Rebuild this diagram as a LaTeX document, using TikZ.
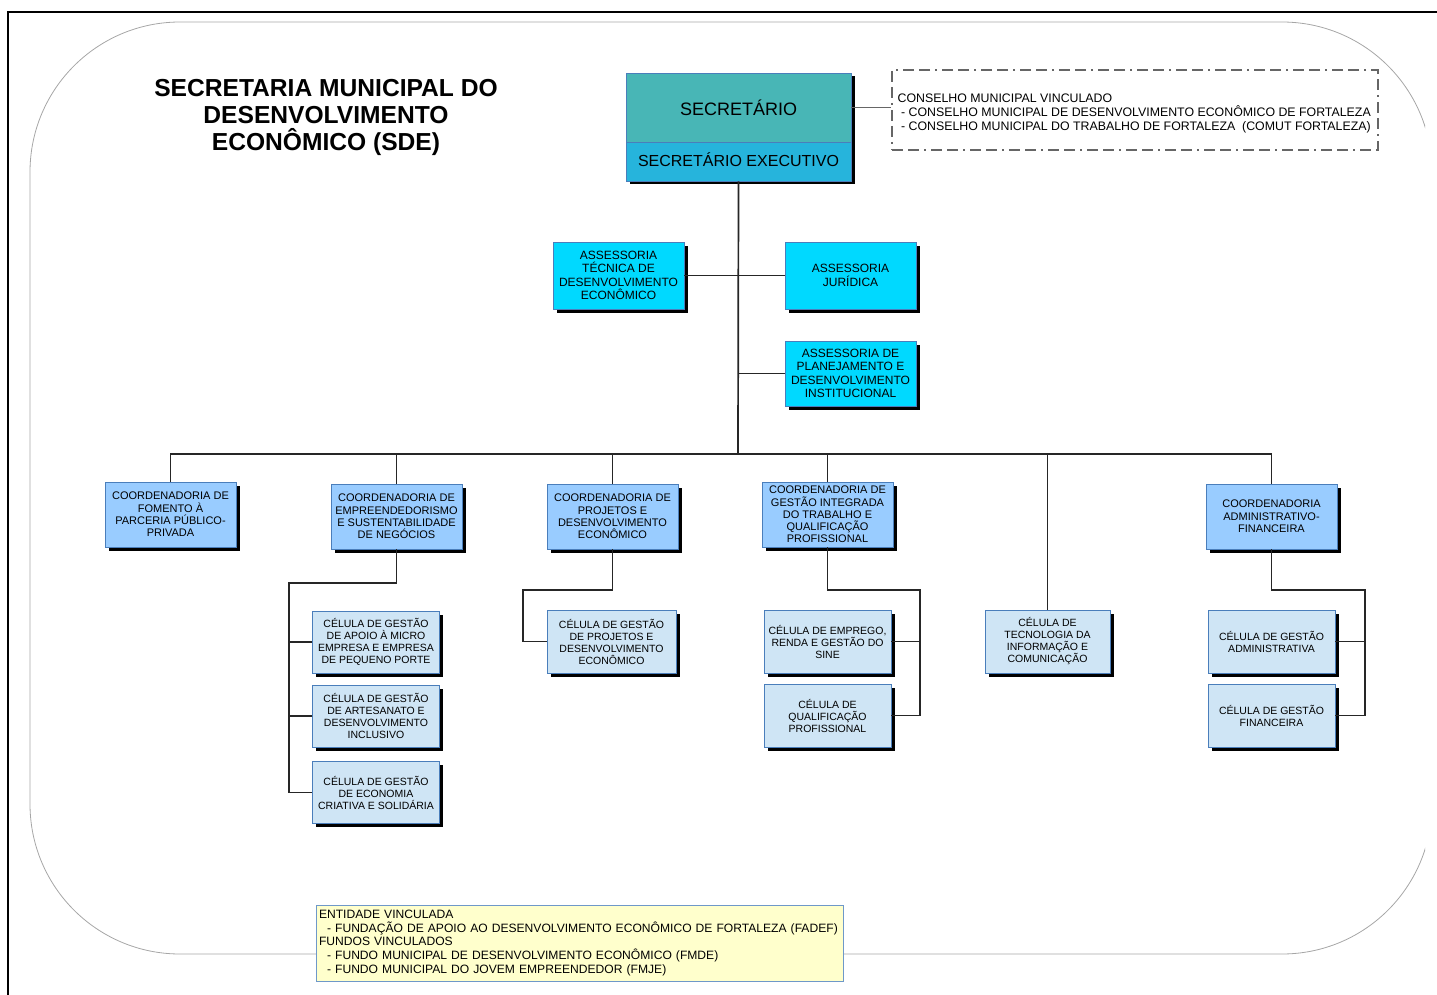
\documentclass[tikz,border=0pt]{standalone}
\usepackage{fontspec}
\setmainfont{Liberation Sans}
\usetikzlibrary{shadows}
\definecolor{secteal}{RGB}{72,182,182}
\definecolor{secexec}{RGB}{38,180,220}
\definecolor{assess}{RGB}{0,217,255}
\definecolor{coordc}{RGB}{153,204,255}
\definecolor{cellc}{RGB}{207,229,245}
\definecolor{yel}{RGB}{255,255,204}
\definecolor{bord}{RGB}{74,126,187}
\tikzset{
  shad/.style={drop shadow={shadow xshift=3.5pt, shadow yshift=-3.5pt, fill=black, opacity=1}},
  orgbox/.style={draw=bord, line width=0.8pt, shad, align=center, inner sep=1pt},
  secbox/.style={orgbox, fill=secteal, minimum width=225pt, font=\fontsize{18}{20}\selectfont},
  asbox/.style={orgbox, fill=assess, minimum width=131pt, minimum height=66pt, font=\fontsize{12}{13.5}\selectfont},
  cobox/.style={orgbox, fill=coordc, minimum width=131pt, minimum height=65pt, font=\fontsize{11}{12.3}\selectfont},
  cebox/.style={orgbox, fill=cellc, minimum width=127pt, minimum height=62pt, font=\fontsize{10.5}{12}\selectfont},
  conn/.style={draw=black!85, line width=1.2pt},
  trunk/.style={draw=black!85, line width=1.7pt},
}
\begin{document}
\begin{tikzpicture}[x=1pt,y=-1pt]
\useasboundingbox (0,0) rectangle (1437,995);
% frame
\draw[line width=2.2pt, black] (1437,12) -- (8,12) -- (8,995);
\begin{scope}
  \clip (0,0) rectangle (1425,995);
  \draw[black!35, line width=0.8pt, rounded corners=150pt] (30,22) rectangle (1432,954);
\end{scope}
% title
\node[font=\fontsize{24.6}{27}\selectfont\bfseries, align=center] (title) at (326,117.5)
  {SECRETARIA MUNICIPAL DO\\DESENVOLVIMENTO\\ECONÔMICO (SDE)};
% top
\node[secbox, minimum height=69pt] (sec) at (738.5,107.5) {SECRETÁRIO};
\node[secbox, fill=secexec, minimum height=39pt, font=\fontsize{16}{18}\selectfont] (exec) at (738.5,161.5) {SECRETÁRIO EXECUTIVO\rule[-4pt]{0pt}{4pt}};
\node[draw=black!60, line width=1.2pt, dash pattern=on 11pt off 5pt on 11pt off 5pt on 2pt off 5pt,
      minimum width=486pt, minimum height=80pt] (cons) at (1135,110) {};
\node[anchor=west, align=left, inner sep=0pt, font=\fontsize{12.35}{14}\selectfont] (constxt) at (897.5,113.5)
  {CONSELHO MUNICIPAL VINCULADO\\
   \ - CONSELHO MUNICIPAL DE DESENVOLVIMENTO ECONÔMICO DE FORTALEZA\\
   \ - CONSELHO MUNICIPAL DO TRABALHO DE FORTALEZA\ \ (COMUT FORTALEZA)};
% assessorias
\node[asbox, minimum height=67pt] (at) at (618.5,275.5) {ASSESSORIA\\TÉCNICA DE\\DESENVOLVIMENTO\\ECONÔMICO};
\node[asbox, minimum height=67pt] (aj) at (850.5,275.5) {ASSESSORIA\\JURÍDICA};
\node[asbox, minimum height=65pt] (ap) at (850.5,373.5) {ASSESSORIA DE\\PLANEJAMENTO E\\DESENVOLVIMENTO\\INSTITUCIONAL};
% coordenadorias
\node[cobox] (c1) at (170.5,514.5) {COORDENADORIA DE\\FOMENTO À\\PARCERIA PÚBLICO-\\PRIVADA};
\node[cobox] (c2) at (396.5,516.5) {COORDENADORIA DE\\EMPREENDEDORISMO\\E SUSTENTABILIDADE\\DE NEGÓCIOS};
\node[cobox] (c3) at (612.5,516.5) {COORDENADORIA DE\\PROJETOS E\\DESENVOLVIMENTO\\ECONÔMICO};
\node[cobox, font=\fontsize{11}{12.2}\selectfont] (c4) at (827.5,514.5) {COORDENADORIA DE\\GESTÃO INTEGRADA\\DO TRABALHO E\\QUALIFICAÇÃO\\PROFISSIONAL};
\node[cobox] (c6) at (1271.5,516.5) {COORDENADORIA\\ADMINISTRATIVO-\\FINANCEIRA};
% celulas
\node[cebox, minimum width=125pt, minimum height=63pt] (tec) at (1047.5,641.5) {CÉLULA DE\\TECNOLOGIA DA\\INFORMAÇÃO E\\COMUNICAÇÃO};
\node[cebox] (e1) at (376,642) {CÉLULA DE GESTÃO\\DE APOIO À MICRO\\EMPRESA E EMPRESA\\DE PEQUENO PORTE};
\node[cebox] (e2) at (376,716) {CÉLULA DE GESTÃO\\DE ARTESANATO E\\DESENVOLVIMENTO\\INCLUSIVO};
\node[cebox] (e3) at (376,792.5) {CÉLULA DE GESTÃO\\DE ECONOMIA\\CRIATIVA E SOLIDÁRIA};
\node[cebox, minimum width=129pt, minimum height=63pt] (p1) at (611.5,641.5) {CÉLULA DE GESTÃO\\DE PROJETOS E\\DESENVOLVIMENTO\\ECONÔMICO};
\node[cebox, minimum height=63pt] (g1) at (827.5,641.5) {CÉLULA DE EMPREGO,\\RENDA E GESTÃO DO\\SINE};
\node[cebox, minimum height=63pt] (g2) at (827.5,715.5) {CÉLULA DE\\QUALIFICAÇÃO\\PROFISSIONAL};
\node[cebox, minimum height=63pt] (a1) at (1271.5,641.5) {CÉLULA DE GESTÃO\\ADMINISTRATIVA};
\node[cebox, minimum height=63pt] (a2) at (1271.5,715.5) {CÉLULA DE GESTÃO\\FINANCEIRA};
% yellow box
\node[draw=bord!80, line width=0.8pt, fill=yel, minimum width=527pt, minimum height=76pt,
      text width=521pt, align=left, inner xsep=3pt, font=\fontsize{12.1}{13.8}\selectfont] (ent) at (579.5,943)
  {ENTIDADE VINCULADA\\
   \ \ - FUNDAÇÃO DE APOIO AO DESENVOLVIMENTO ECONÔMICO DE FORTALEZA (FADEF)\\
   FUNDOS VINCULADOS\\
   \ \ - FUNDO MUNICIPAL DE DESENVOLVIMENTO ECONÔMICO (FMDE)\\
   \ \ - FUNDO MUNICIPAL DO JOVEM EMPREENDEDOR (FMJE)};
% connectors
\draw[draw=black!60, line width=1.2pt] (sec.east) -- (sec.east -| cons.west);
\coordinate (j) at (738,454);
\draw[trunk] (exec.south) -- (j);
\draw[conn] (at.east) -- (aj.west);
\draw[conn] (ap.west) -- (ap.west -| j);
\draw[conn] (c1.north) -- (c1.north |- j) -- (c6.north |- j) -- (c6.north);
\draw[conn] (c2.north) -- (c2.north |- j);
\draw[conn] (c3.north) -- (c3.north |- j);
\draw[conn] (c4.north) -- (c4.north |- j);
\draw[conn] (tec.north) -- (tec.north |- j);
% empreendedorismo
\coordinate (ek) at (289,583);
\draw[conn] (c2.south) |- (ek) |- (e3.west);
\draw[conn] (e1.west) -- (e1.west -| ek);
\draw[conn] (e2.west) -- (e2.west -| ek);
% projetos
\coordinate (pk) at (523,590);
\draw[conn] (c3.south) |- (pk) |- (p1.west);
% gestao integrada
\coordinate (gk) at (920,590);
\draw[conn] (c4.south) |- (gk) |- (g2.east);
\draw[conn] (g1.east) -- (g1.east -| gk);
% adm-fin
\coordinate (ak) at (1365,590);
\draw[conn] (c6.south) |- (ak) |- (a2.east);
\draw[conn] (a1.east) -- (a1.east -| ak);
\end{tikzpicture}
\end{document}
